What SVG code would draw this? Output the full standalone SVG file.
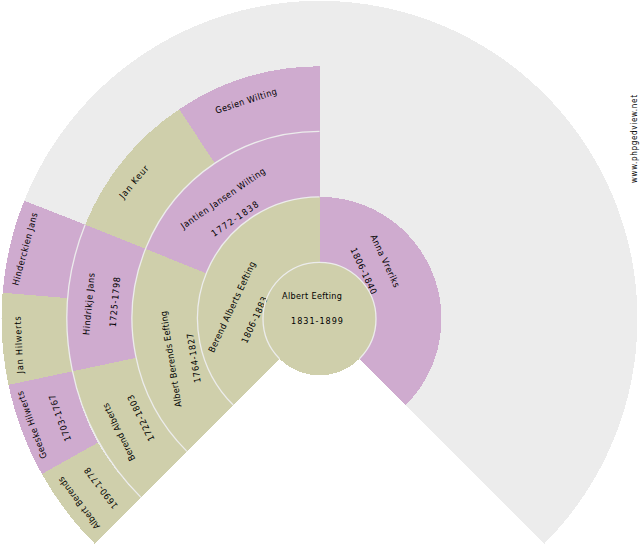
<svg xmlns="http://www.w3.org/2000/svg" width="640" height="550" viewBox="0 0 640 550">
<style>
text{font-family:"DejaVu Sans Condensed","DejaVu Sans","Liberation Sans",sans-serif;font-size:9px;fill:#000;text-anchor:middle}
.o{fill:#cfcfab;shape-rendering:crispEdges}
.p{fill:#cfabcf;shape-rendering:crispEdges}
.g{fill:#ececec;shape-rendering:crispEdges}
.l{fill:none;stroke:#ececec;stroke-width:1.3}
.u{font-size:8px}
</style>
<rect width="640" height="550" fill="#fff"/>
<path id="fan-background" class="g" d="M319.5 318.8L94.64 543.66A318 318 0 1 1 544.36 543.66Z"/>
<g id="node-albert-eefting"><circle class="o" cx="319.5" cy="318.8" r="56.5"/><text x="312" y="299" textLength="60">Albert Eefting</text><text x="317" y="324" textLength="52">1831-1899</text></g>
<g id="node-berend-alberts-eefting"><path class="o" d="M233.23 405.07A122 122 0 0 1 319.5 196.8L319.5 262.3A56.5 56.5 0 0 0 279.55 358.75Z"/><text transform="translate(232 307) rotate(-65)" y="3" textLength="99">Berend Alberts Eefting</text><text transform="translate(254.5 320) rotate(-65)" y="3" textLength="50">1806-1883</text></g>
<g id="node-anna-vreriks"><path class="p" d="M319.5 196.8A122 122 0 0 1 405.77 405.07L359.45 358.75A56.5 56.5 0 0 0 319.5 262.3Z"/><text transform="translate(385 261) rotate(65)" y="3" textLength="57">Anna Vreriks</text><text transform="translate(363.5 271) rotate(65)" y="3" textLength="50">1806-1840</text></g>
<g id="node-albert-berends-eefting"><path class="o" d="M186.92 451.38A187.5 187.5 0 0 1 145.54 248.86L206.3 273.3A122 122 0 0 0 233.23 405.07Z"/><text transform="translate(171 359) rotate(-99)" y="3" textLength="97">Albert Berends Eefting</text><text transform="translate(194 358) rotate(-99)" y="3" textLength="50">1764-1827</text></g>
<g id="node-jantien-jansen-wilting"><path class="p" d="M145.54 248.86A187.5 187.5 0 0 1 319.5 131.3L319.5 196.8A122 122 0 0 0 206.3 273.3Z"/><text transform="translate(223 198.5) rotate(-34.5)" y="3" textLength="100">Jantien Jansen Wilting</text><text transform="translate(235 219) rotate(-34.5)" y="3" textLength="55">1772-1838</text></g>
<g id="node-berend-alberts"><path class="o" d="M140.95 497.35A252.5 252.5 0 0 1 72.5 371.3L136.1 357.8A187.5 187.5 0 0 0 186.92 451.38Z"/><text transform="translate(119 432) rotate(-116)" y="3" textLength="63">Berend Alberts</text><text transform="translate(141 418) rotate(-116)" y="3" textLength="50">1722-1803</text></g>
<g id="node-hindrikje-jans"><path class="p" d="M72.5 371.3A252.5 252.5 0 0 1 85.2 224.6L145.54 248.86A187.5 187.5 0 0 0 136.1 357.8Z"/><text transform="translate(89 304) rotate(-85)" y="3" textLength="62">Hindrikje Jans</text><text transform="translate(115 302) rotate(-85)" y="3" textLength="50">1725-1798</text></g>
<g id="node-jan-keur"><path class="o" d="M85.2 224.6A252.5 252.5 0 0 1 179.22 109.3L214.8 163.2A187.5 187.5 0 0 0 145.54 248.86Z"/><text transform="translate(134 182) rotate(-50)" y="3" textLength="40">Jan Keur</text></g>
<g id="node-gesien-wilting"><path class="p" d="M179.22 109.3A252.5 252.5 0 0 1 319.5 66.3L319.5 131.3A187.5 187.5 0 0 0 214.8 163.2Z"/><text transform="translate(246 101) rotate(-18)" y="3" textLength="64">Gesien Wilting</text></g>
<g id="node-albert-berends"><path class="o" d="M94.64 543.66A318 318 0 0 1 41.9 474L97.8 442.7A252.5 252.5 0 0 0 140.95 497.35Z"/><text transform="translate(79 503) rotate(-127)" y="3" textLength="63">Albert Berends</text><text transform="translate(101 488) rotate(-127)" y="3" textLength="49">1690-1778</text></g>
<g id="node-geeske-hilwerts"><path class="p" d="M41.9 474A318 318 0 0 1 8.5 384.9L72.5 371.3A252.5 252.5 0 0 0 97.8 442.7Z"/><text transform="translate(32 425) rotate(-110)" y="3" textLength="71">Geeske Hilwerts</text><text transform="translate(60 418) rotate(-110)" y="3" textLength="49">1703-1767</text></g>
<g id="node-jan-hilwerts"><path class="o" d="M8.5 384.9A318 318 0 0 1 2.6 292.75L67.85 298.11A252.5 252.5 0 0 0 72.5 371.3Z"/><text transform="translate(19 345) rotate(-92.8)" y="3" textLength="57">Jan Hilwerts</text></g>
<g id="node-hinderckien-jans"><path class="p" d="M2.6 292.75A318 318 0 0 1 24.2 200.7L85.2 224.6A252.5 252.5 0 0 0 67.85 298.11Z"/><text transform="translate(25 249) rotate(-75)" y="3" textLength="75">Hinderckien Jans</text></g>
<g id="connectors">
<path class="l" d="M279.55 358.75A56.5 56.5 0 1 1 359.45 358.75"/>
<path class="l" d="M233.23 405.07A122 122 0 0 1 319.5 196.8"/>
<path class="l" d="M186.92 451.38A187.5 187.5 0 0 1 319.5 131.3"/>
<path class="l" d="M140.95 497.35A252.5 252.5 0 0 1 85.2 224.6"/>
</g>
<text class="u" transform="translate(637 139) rotate(-90)" textLength="88">www.phpgedview.net</text>
</svg>
